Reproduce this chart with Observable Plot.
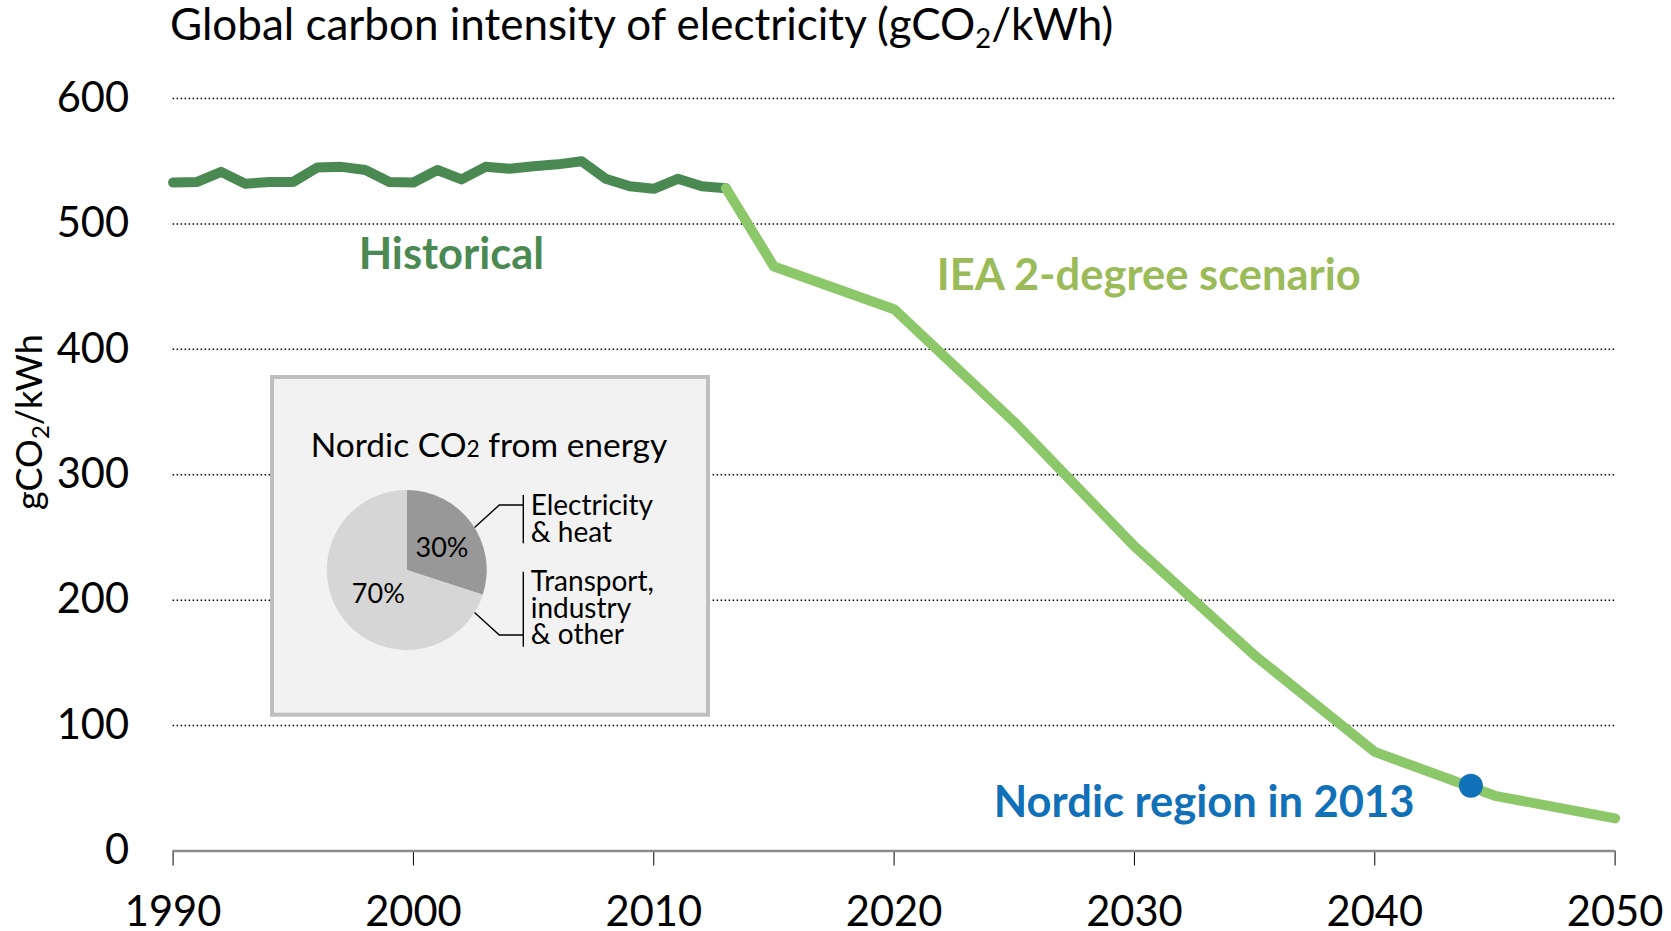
<!DOCTYPE html>
<html>
<head>
<meta charset="utf-8">
<script src="https://cdn.jsdelivr.net/npm/d3@7"></script>
<script src="https://cdn.jsdelivr.net/npm/@observablehq/plot@0.6"></script>
<style>
  html, body { margin: 0; padding: 0; background: #fff; }
  #wrap { position: relative; width: 1671px; height: 931px; overflow: hidden; font-family: Lato, sans-serif; }
  #title { height: 60px; box-sizing: border-box; padding-left: 170px; padding-top: 1px;
           font-size: 44px; line-height: 1; color: #000; white-space: nowrap; }
  #title sub { font-size: 0.62em; vertical-align: -0.28em; line-height: 0; }
  #chart svg { display: block; }
</style>
</head>
<body>
<div id="wrap">
  <div id="title">Global carbon intensity of electricity (gCO<sub>2</sub>/kWh)</div>
  <div id="chart"></div>
</div>
<script>
// ---------------- DATA ----------------
const histYears  = [1990,1991,1992,1993,1994,1995,1996,1997,1998,1999,2000,2001,2002,2003,2004,2005,2006,2007,2008,2009,2010,2011,2012,2013];
const histValues = [533,533.5,541.5,532,533.5,533.5,545,545.5,543,533.5,533,543,535.5,545.5,544,546,547.5,550,536,530,528,536,530,528.5];

const scenYears  = [2013,2015,2020,2025,2030,2035,2040,2045,2050];
const scenValues = [528.5,466,432,342,243,156,79,44,26];

const nordicYear  = [2044];
const nordicValue = [52];

const xTicks = [1990,2000,2010,2020,2030,2040,2050];
const yTicks = [0,100,200,300,400,500,600];
const gridValues = [100,200,300,400,500,600];

const seriesLabels = ["Historical", "IEA 2-degree scenario", "Nordic region in 2013"];
const yAxisLabel = "gCO2/kWh";

const pieTitle   = "Nordic CO2 from energy";
const pieShares  = [30, 70];
const pieCats    = [["Electricity", "& heat"], ["Transport,", "industry", "& other"]];

// ---------------- LAYOUT / STYLE ----------------
const TITLE_H = 60;
const W = 1671, H = 931 - TITLE_H;
const COLORS = {
  hist: "#4a8a52", scen: "#8cc76a", scenText: "#9bbb59", blue: "#1070b8",
  pieDark: "#989898", pieLight: "#d6d6d6", boxFill: "#f2f2f2", boxStroke: "#bfbfbf"
};
// annotation anchors (data units) for series labels
const labelPos = [
  {x: 2001.58, y: 464.4, fill: COLORS.hist},
  {x: 2030.6,  y: 447.1, fill: COLORS.scenText},
  {x: 2032.9,  y: 26.8,  fill: COLORS.blue}
];
const LABEL_SIZE = 43.5;
const yLabelPos = 342;
// inset layout in page pixels
const INSET = {
  box: {x: 270, y: 375, w: 440, h: 341.7, border: 4},
  pie: {cx: 406.7, cy: 570, r: 80},
  title: {x: 489, y: 457, size: 33.5},
  pct: [{x: 442, y: 556.7}, {x: 378.3, y: 603.3}], pctSize: 27,
  leaderAngles: [58, 122], elbowX: 499.3, elbowY: [505, 635], bracketX: 523.3,
  bracketSpan: [[495, 543.3], [571.7, 646.7]],
  catX: 530.7, catY: [515, 590.7], catLH: 26.8, catSize: 28
};

// ---------------- BUILD ----------------
const hist = histYears.map((year, i) => ({year, value: histValues[i]}));
const scen = scenYears.map((year, i) => ({year, value: scenValues[i]}));
const nordic = nordicYear.map((year, i) => ({year, value: nordicValue[i]}));
const labels = seriesLabels.map((text, i) => ({text, ...labelPos[i]}));

function insetMark(index, scales, values, dimensions, context) {
  const g = d3.create("svg:g").attr("font-family", "Lato, sans-serif").attr("text-anchor", "start");
  const dy = -TITLE_H;
  const b = INSET.box;
  g.append("rect")
    .attr("x", b.x + b.border / 2).attr("y", b.y + b.border / 2 + dy)
    .attr("width", b.w - b.border).attr("height", b.h - b.border)
    .attr("fill", COLORS.boxFill).attr("stroke", COLORS.boxStroke).attr("stroke-width", b.border);
  // title with subscript
  const t = g.append("text").attr("x", INSET.title.x).attr("y", INSET.title.y + dy)
    .attr("text-anchor", "middle").attr("font-size", INSET.title.size).attr("fill", "#000");
  const [pre, post] = pieTitle.split("2");
  t.append("tspan").text(pre);
  t.append("tspan").attr("font-size", INSET.title.size * 0.68).text("2");
  t.append("tspan").text(post);
  // pie
  const p = INSET.pie;
  const arcs = d3.pie().sort(null).value(d => d)(pieShares);
  const arc = d3.arc().innerRadius(0).outerRadius(p.r);
  const pg = g.append("g").attr("transform", `translate(${p.cx},${p.cy + dy})`);
  pg.selectAll("path").data(arcs).join("path")
    .attr("d", arc).attr("fill", (d, i) => i === 0 ? COLORS.pieDark : COLORS.pieLight);
  // percentage labels
  g.selectAll("text.pct").data(pieShares).join("text").attr("class", "pct")
    .attr("x", (d, i) => INSET.pct[i].x).attr("y", (d, i) => INSET.pct[i].y + dy)
    .attr("text-anchor", "middle").attr("font-size", INSET.pctSize).attr("fill", "#000")
    .text(d => d + "%");
  // leaders and brackets
  INSET.leaderAngles.forEach((a, i) => {
    const rad = a * Math.PI / 180;
    const sx = p.cx + p.r * Math.sin(rad), sy = p.cy - p.r * Math.cos(rad);
    g.append("path")
      .attr("d", `M${sx},${sy + dy}L${INSET.elbowX},${INSET.elbowY[i] + dy}L${INSET.bracketX},${INSET.elbowY[i] + dy}`)
      .attr("fill", "none").attr("stroke", "#000").attr("stroke-width", 1.4);
    g.append("line")
      .attr("x1", INSET.bracketX).attr("x2", INSET.bracketX)
      .attr("y1", INSET.bracketSpan[i][0] + dy).attr("y2", INSET.bracketSpan[i][1] + dy)
      .attr("stroke", "#000").attr("stroke-width", 1.4);
    pieCats[i].forEach((line, j) => {
      g.append("text").attr("x", INSET.catX).attr("y", INSET.catY[i] + j * INSET.catLH + dy)
        .attr("text-anchor", "start")
        .attr("font-size", INSET.catSize).attr("fill", "#000").text(line);
    });
  });
  return g.node();
}

const plot = Plot.plot({
  width: W, height: H,
  marginTop: 38, marginBottom: 80.5, marginLeft: 172.6, marginRight: 56.4,
  style: {fontFamily: "Lato, sans-serif", fontSize: "41.6px", color: "#000", background: "#fff", overflow: "visible"},
  x: {domain: [1990, 2050], ticks: xTicks, tickFormat: d => String(d), tickSize: 15, tickPadding: 30, label: null},
  y: {domain: [0, 600], ticks: yTicks, tickSize: 0, tickPadding: 44, label: null},
  marks: [
    Plot.ruleY(gridValues, {stroke: "#000", strokeWidth: 1.5, strokeDasharray: "1.5,2.5"}),
    insetMark,
    Plot.ruleY([0], {stroke: "#8c8c8c", strokeWidth: 2.5}),
    Plot.line(hist, {x: "year", y: "value", stroke: COLORS.hist, strokeWidth: 10, strokeLinejoin: "round"}),
    Plot.line(scen, {x: "year", y: "value", stroke: COLORS.scen, strokeWidth: 10, strokeLinejoin: "round"}),
    Plot.dot(nordic, {x: "year", y: "value", r: 12, fill: COLORS.blue, stroke: "none"}),
    Plot.text(labels, {x: "x", y: "y", text: "text", fill: "fill", fontSize: LABEL_SIZE, fontWeight: "bold",
                       textAnchor: "middle", lineAnchor: "bottom"}),
    Plot.text([yAxisLabel], {frameAnchor: "left", y: [yLabelPos], text: d => d, rotate: -90, dx: 41 - 172.6,
                             fontSize: 36, textAnchor: "middle", lineAnchor: "bottom", fill: "#000"})
  ]
});

// subscript in the y-axis label
d3.select(plot).selectAll("text").filter(function() { return this.textContent === yAxisLabel; })
  .each(function() {
    const t = d3.select(this);
    t.text(null);
    t.append("tspan").text("gCO");
    t.append("tspan").attr("font-size", 24).attr("dy", 7).text("2");
    t.append("tspan").attr("dy", -7).text("/kWh");
  });

document.getElementById("chart").appendChild(plot);
</script>
</body>
</html>
